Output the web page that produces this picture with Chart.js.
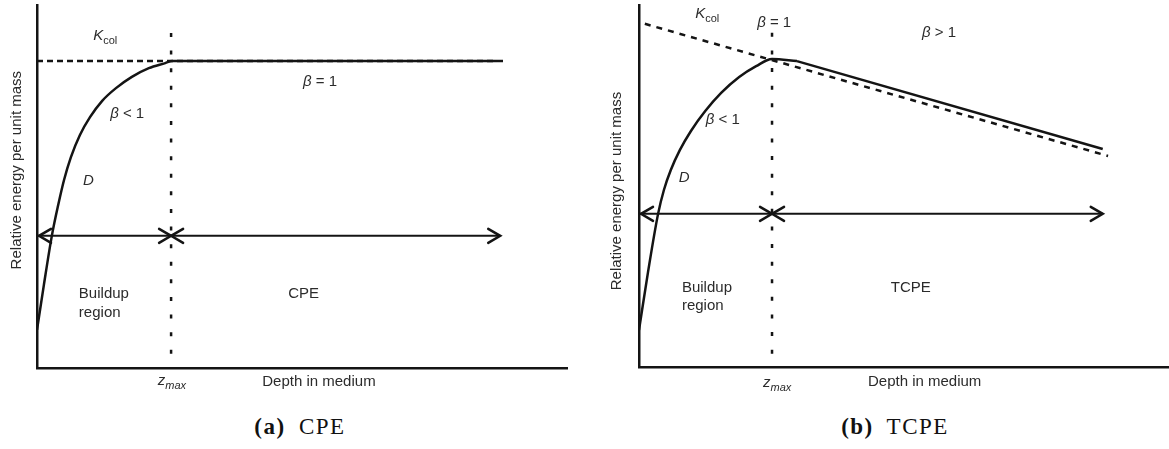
<!DOCTYPE html>
<html>
<head>
<meta charset="utf-8">
<script src="https://cdn.jsdelivr.net/npm/chart.js@4.4.1/dist/chart.umd.min.js"></script>
<style>
    body { margin: 0; background: #fff; width: 1169px; height: 449px; position: relative; overflow: hidden; }
    .panel { position: absolute; top: 0; }
    .caption {
        position: absolute; top: 415px; width: 300px; text-align: center;
        font: 23px "Liberation Serif", "Times New Roman", serif; line-height: 1;
        letter-spacing: 1.5px; word-spacing: 6px; color: #111;
    }
    .caption b { font-weight: bold; }
</style>
</head>
<body>
<div class="panel" style="left:0"><canvas id="cpeChart" width="585" height="400"></canvas></div>
<div class="panel" style="left:590px"><canvas id="tcpeChart" width="579" height="400"></canvas></div>
<div class="caption" style="left:150px"><b>(a)</b> CPE</div>
<div class="caption" style="left:745px"><b>(b)</b> TCPE</div>

<script>
// (a) CPE - dose build-up then flat plateau
var depthA = [0, 1.3, 2.8, 4.0, 5.1, 6.4, 8.1, 10.0, 12.3, 14.9, 17.9, 21.1, 24.2, 25.5, 86.8];
var energyA = [10.5, 22.9, 36.4, 44.9, 51.8, 58.1, 64.2, 69.1, 73.6, 77.1, 80.2, 82.6, 84.0, 84.6, 84.6];
var kcolDepthA = [0, 88.2];
var kcolEnergyA = [84.6, 84.6];
var zmaxA = 25.3;
var spanStopsA = [0, 25.3, 87.4];
var spanLevelA = 36.4;

// (b) TCPE - dose peaks at zmax then follows the attenuated kerma
var depthB = [0, 1.7, 3.6, 4.7, 6.0, 7.7, 9.8, 12.5, 15.5, 18.9, 22.1, 25.1, 29.8];
var energyB = [10.2, 26.2, 42.3, 48.9, 54.4, 59.9, 65.2, 70.7, 75.7, 80.1, 83.1, 85.1, 84.5];
var tailDepthB = [29.8, 87.5];
var tailEnergyB = [84.5, 60.2];
var kcolDepthB = [1.1, 88.5];
var kcolEnergyB = [94.8, 58.3];
var zmaxB = 25.1;
var spanStopsB = [0, 25.1, 87.5];
var spanLevelB = 42.3;

var zmaxTop = 92.3;

var INK = '#141414';
var TEXT = '#2b2b2b';
var SANS = '"Liberation Sans", Arial, Helvetica, sans-serif';

function points(xs, ys) {
    return xs.map((x, i) => ({ x: x, y: ys[i] }));
}

function lineSet(data, extra) {
    return Object.assign({
        data: data,
        showLine: true,
        borderColor: INK,
        borderWidth: 2.5,
        pointRadius: 0,
        fill: false
    }, extra || {});
}

function buildSets(depth, energy, kcolD, kcolE, zmax, stops, level, kcolDash) {
    return [
        lineSet(points(kcolD, kcolE), { borderDash: kcolDash }),
        lineSet(points([zmax, zmax], [zmaxTop, 0]), { borderDash: [4, 13.6] }),
        lineSet(points(stops, stops.map(() => level)), { borderWidth: 2, arrows: true }),
        lineSet(points(depth, energy), { cubicInterpolationMode: 'monotone' })
    ];
}

// text with italic / subscript pieces, left aligned at a baseline
function drawRich(ctx, parts, x, y) {
    parts.forEach(p => {
        var size = p.sub ? 11 : 15;
        ctx.font = (p.it ? 'italic ' : '') + size + 'px ' + SANS;
        ctx.fillText(p.t, x, y + (p.sub ? 4 : 0));
        x += ctx.measureText(p.t).width;
    });
}

function chevron(ctx, x, y, dir) {
    ctx.beginPath();
    ctx.moveTo(x - dir * 12, y - 7);
    ctx.lineTo(x, y);
    ctx.lineTo(x - dir * 12, y + 7);
    ctx.stroke();
}

function makeNotes(labels, yTitle) {
    return {
        id: 'notes',
        afterDatasetsDraw(chart) {
            var ctx = chart.ctx;
            ctx.save();
            ctx.strokeStyle = INK;
            ctx.lineWidth = 2.5;
            ctx.lineCap = 'round';
            chart.data.datasets.forEach((ds, i) => {
                if (!ds.arrows) return;
                var pts = chart.getDatasetMeta(i).data;
                pts.forEach((pt, j) => {
                    if (j > 0) chevron(ctx, pt.x, pt.y, 1);
                    if (j < pts.length - 1) chevron(ctx, pt.x + (j === 0 ? 2 : 0), pt.y, -1);
                });
            });
            ctx.restore();
        },
        afterDraw(chart) {
            var ctx = chart.ctx;
            var xs = chart.scales.x, ys = chart.scales.y;
            ctx.save();
            ctx.fillStyle = TEXT;
            ctx.textBaseline = 'alphabetic';
            ctx.textAlign = 'left';
            labels.forEach(l => drawRich(ctx, l.parts, xs.getPixelForValue(l.x), ys.getPixelForValue(l.y)));

            ctx.translate(chart.chartArea.left + yTitle.dx, ys.getPixelForValue(yTitle.y));
            ctx.rotate(-Math.PI / 2);
            ctx.textAlign = 'center';
            ctx.textBaseline = 'middle';
            ctx.font = '15px ' + SANS;
            ctx.fillText(yTitle.text, 0, 0);
            ctx.restore();
        }
    };
}

function beta(rest) {
    return [{ t: '\u03B2', it: true }, { t: rest }];
}

var KCOL = [{ t: 'K', it: true }, { t: 'col', sub: true }];
var ZMAX = [{ t: 'z', it: true }, { t: 'max', it: true, sub: true }];
var DEPTH = [{ t: 'Depth in medium' }];

var labelsA = [
    { x: 10.6, y: 90.4, parts: KCOL },
    { x: 13.8, y: 68.9, parts: beta(' < 1') },
    { x: 8.7, y: 50.4, parts: [{ t: 'D', it: true }] },
    { x: 50.2, y: 77.7, parts: beta(' = 1') },
    { x: 7.9, y: 19.3, parts: [{ t: 'Buildup' }] },
    { x: 7.9, y: 14.0, parts: [{ t: 'region' }] },
    { x: 47.4, y: 19.3, parts: [{ t: 'CPE' }] },
    { x: 22.8, y: -4.7, parts: ZMAX },
    { x: 42.5, y: -5.0, parts: DEPTH }
];

var labelsB = [
    { x: 10.6, y: 96.4, parts: KCOL },
    { x: 22.3, y: 93.9, parts: beta(' = 1') },
    { x: 53.4, y: 91.2, parts: beta(' > 1') },
    { x: 12.6, y: 67.1, parts: beta(' < 1') },
    { x: 7.5, y: 51.1, parts: [{ t: 'D', it: true }] },
    { x: 8.1, y: 20.7, parts: [{ t: 'Buildup' }] },
    { x: 8.1, y: 15.7, parts: [{ t: 'region' }] },
    { x: 47.5, y: 20.7, parts: [{ t: 'TCPE' }] },
    { x: 23.4, y: -5.5, parts: ZMAX },
    { x: 43.2, y: -5.2, parts: DEPTH }
];

function axis(pos) {
    return {
        type: 'linear',
        position: pos,
        min: 0,
        max: 100,
        grid: { display: false, drawTicks: false },
        ticks: { display: false },
        border: { display: true, color: INK, width: 2.5 }
    };
}

function makeChart(id, datasets, padding, labels, yTitle) {
    return new Chart(document.getElementById(id), {
        type: 'scatter',
        data: { datasets: datasets },
        options: {
            responsive: false,
            animation: false,
            layout: { padding: padding },
            plugins: { legend: { display: false }, tooltip: { enabled: false } },
            scales: { x: axis('bottom'), y: axis('left') },
            elements: { line: { borderCapStyle: 'butt' } }
        },
        plugins: [makeNotes(labels, yTitle)]
    });
}

makeChart('cpeChart',
    buildSets(depthA, energyA, kcolDepthA, kcolEnergyA, zmaxA, spanStopsA, spanLevelA, [6, 4]),
    { left: 37, top: 5, right: 18, bottom: 32 },
    labelsA,
    { text: 'Relative energy per unit mass', dx: -20, y: 54.5 });

// the TCPE dose falls off along a straight tail beyond the peak
var setsB = buildSets(depthB, energyB, kcolDepthB, kcolEnergyB, zmaxB, spanStopsB, spanLevelB, [6, 6]);
setsB.push(lineSet(points(tailDepthB, tailEnergyB)));

makeChart('tcpeChart',
    setsB,
    { left: 49, top: 5, right: 0, bottom: 33 },
    labelsB,
    { text: 'Relative energy per unit mass', dx: -22, y: 48.6 });
</script>
</body>
</html>
